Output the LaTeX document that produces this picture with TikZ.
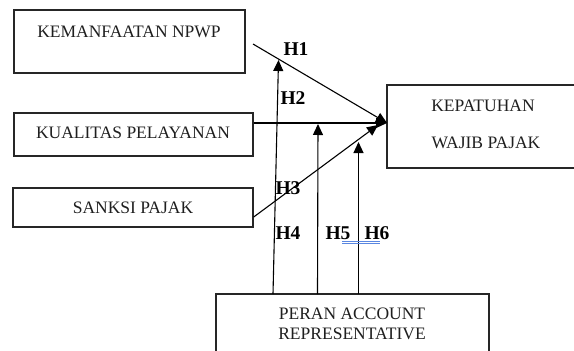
\documentclass[tikz,border=0pt]{standalone}
\usepackage{fontspec}
\setmainfont{Liberation Serif}
\usetikzlibrary{arrows.meta,calc}
\begin{document}
\begin{tikzpicture}[x=1pt,y=-1pt,
  boxshape/.style={draw=black!85, line width=1.4pt, inner sep=0pt, rectangle},
  txt/.style={font=\fontsize{17.5}{20}\selectfont, inner sep=0pt, text=black!88},
  hlab/.style={font=\bfseries\fontsize{19.5}{22}\selectfont, inner sep=0pt},
  conn/.style={line width=1.1pt, -{Triangle[length=11pt,width=10pt]}},
  squiggle/.style={draw={rgb,255:red,90;green,135;blue,225}, line width=0.7pt}]
\useasboundingbox (0,0) rectangle (574,351);
\clip (0,0) rectangle (574,351);
\fill[white] (0,0) rectangle (574,351);
% boxes
\node[boxshape, minimum width=231pt, minimum height=63pt] (kn) at (129.5,41.5) {};
\node[txt] (knt) at (129,32) {KEMANFAATAN NPWP};
\node[boxshape, minimum width=239pt, minimum height=43pt] (kp) at (133.5,134.5) {};
\node[txt] (kpt) at (133,133) {KUALITAS PELAYANAN};
\node[boxshape, minimum width=240pt, minimum height=39pt] (sp) at (133,207.5) {};
\node[txt] (spt) at (133,208) {SANKSI PAJAK};
\node[boxshape, minimum width=196pt, minimum height=83pt] (kw) at (485,126.5) {};
\node[txt] (kwt1) at (483,106) {KEPATUHAN};
\node[txt] (kwt2) at (486,143) {WAJIB PAJAK};
\node[boxshape, minimum width=273pt, minimum height=80pt] (ar) at (352.5,334) {};
\node[txt] (art1) at (352,314) {PERAN ACCOUNT};
\node[txt] (art2) at (352,334) {REPRESENTATIVE};
% coordinates
\coordinate (s1) at (253,44);
\coordinate (tip) at (387,123);
\coordinate (tip3) at (378,125);
\coordinate (s3) at ($(sp.east)+(0,9.5)$);
\coordinate (b4) at (273,294);
\coordinate (e4) at (278.5,60);
\coordinate (b5) at (317.5,294);
\coordinate (e5) at (318,124);
\coordinate (b6) at (358.5,294);
\coordinate (e6) at (358.5,142);
% connectors
\draw[conn] (s1) -- (tip);
\draw[conn] (kp.east |- tip) -- (tip);
\draw[conn] (s3) -- (tip3);
\draw[conn] (b4) -- (e4);
\draw[conn] (b5) -- (e5);
\draw[conn] (b6) -- (e6);
% labels
\node[hlab] (h1) at (296,49) {H1};
\node[hlab] (h2) at (293,98) {H2};
\node[hlab] (h3) at (288,188) {H3};
\node[hlab] (h4) at (288,233) {H4};
\node[hlab] (h5) at (338,233) {H5};
\node[hlab] (h6) at (377,233) {H6};
\draw[squiggle] (342,241.5) -- (380,241.5);
\draw[squiggle] (342,243.5) -- (380,243.5);
\end{tikzpicture}
\end{document}
